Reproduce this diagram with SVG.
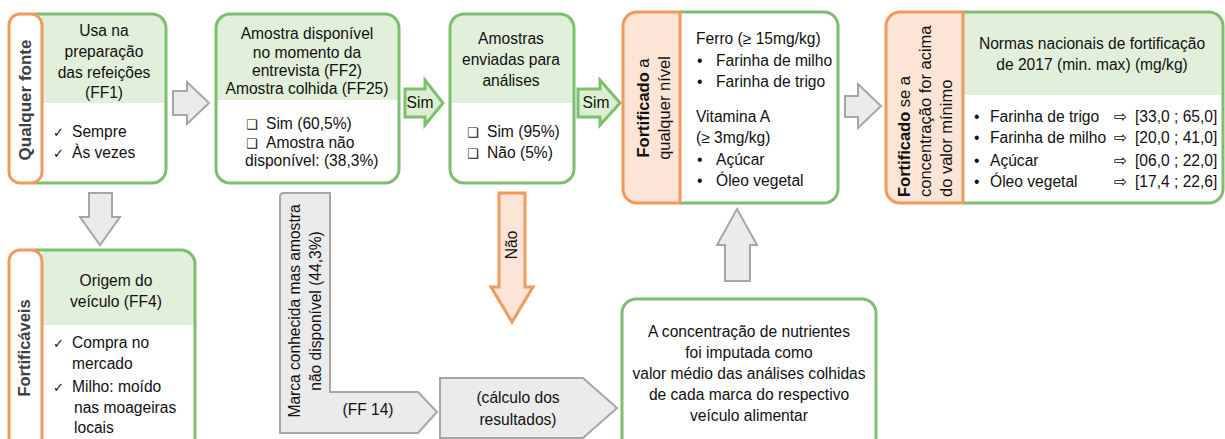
<svg xmlns="http://www.w3.org/2000/svg" width="1225" height="439" viewBox="0 0 1225 439">
<style>
text{font-family:"Liberation Sans",Arial,sans-serif;font-size:15.6px;fill:#111}
.c{text-anchor:middle}
.b{font-weight:bold}
.tab{font-weight:bold;font-size:16.5px;fill:#404040}
.sym{font-family:"DejaVu Sans",sans-serif;font-size:13px}
.arr{font-family:"DejaVu Sans",sans-serif;font-size:16px}
.box{fill:none;stroke:#7dbf6e;stroke-width:3}
.wbox{fill:#fff;stroke:#7dbf6e;stroke-width:3}
.hdr{fill:#e2efda}
.otab{fill:#fff;stroke:#f09a5e;stroke-width:3}
.otabf{fill:#fce4d6;stroke:#f09a5e;stroke-width:3}
.garrow{fill:#ebebeb;stroke:#a6a6a6;stroke-width:2;stroke-linejoin:miter}
.sarrow{fill:#dcefd3;stroke:#7dbf6e;stroke-width:3}
.oarrow{fill:#fce4d6;stroke:#f09a5e;stroke-width:3}
</style>
<rect width="1225" height="439" fill="#fff"/>

<g id="connectors">
  <polygon class="garrow" points="173,91 187,91 187,82 209,103 187,124 187,115 173,115"/>
  <polygon class="garrow" points="89,193 112,193 112,217 120,217 100,245 80,217 89,217"/>
  <polygon class="garrow" points="845,96 858,96 858,84 881,106 858,128 858,117 845,117"/>
  <polygon class="garrow" points="725,281 750,281 750,245 757,245 737,209 717,245 725,245"/>
  <g id="sim1">
    <polygon class="sarrow" points="405,89 425,89 425,80 443,103 425,125 425,117 405,117"/>
    <text x="420" y="108" class="c">Sim</text>
  </g>
  <g id="sim2">
    <polygon class="sarrow" points="578,89 600,89 600,80 620,103 600,125 600,117 578,117"/>
    <text x="596" y="108" class="c">Sim</text>
  </g>
  <g id="nao">
    <polygon class="oarrow" points="499,193 525,193 525,287 533,287 512,322 491,287 499,287"/>
    <text transform="translate(517,245) rotate(-90)" class="c">Não</text>
  </g>
  <g id="marca">
    <path class="garrow" d="M280,197 Q280,193 284,193 H330 V392 H418 L437,412 L418,433 H280 Z"/>
    <text transform="translate(300,311) rotate(-90)" class="c">Marca conhecida mas amostra</text>
    <text transform="translate(321,311) rotate(-90)" class="c">não disponível (44,3%)</text>
    <text x="368" y="415" class="c">(FF 14)</text>
  </g>
  <g id="calculo">
    <path class="garrow" d="M440,378 H583 L617,408 L583,438 H440 Z"/>
    <text x="518" y="403" class="c">(cálculo dos</text>
    <text x="518" y="425" class="c">resultados)</text>
  </g>
</g>

<g id="node-ff1">
  <path class="hdr" d="M42,14 H152 A14,14 0 0 1 166,28 V103 H42 Z"/>
  <rect class="box" x="22" y="14" width="144" height="169" rx="14"/>
  <rect class="otab" x="9" y="14" width="33" height="169" rx="11"/>
  <text class="tab c" transform="translate(31,100) rotate(-90)" style="font-size:17px">Qualquer fonte</text>
  <text x="104" y="36" class="c">Usa na</text>
  <text x="104" y="57" class="c">preparação</text>
  <text x="104" y="77.5" class="c">das refeições</text>
  <text x="104" y="98" class="c">(FF1)</text>
  <text x="53" y="137"><tspan class="sym">✓</tspan><tspan x="72">Sempre</tspan></text>
  <text x="53" y="158"><tspan class="sym">✓</tspan><tspan x="72">Às vezes</tspan></text>
</g>

<g id="node-ff2">
  <path class="hdr" d="M230,14 H385 A14,14 0 0 1 399,28 V100 H216 V28 A14,14 0 0 1 230,14 Z"/>
  <rect class="box" x="216" y="14" width="183" height="169" rx="14"/>
  <text x="307" y="39" class="c">Amostra disponível</text>
  <text x="307" y="57.5" class="c">no momento da</text>
  <text x="307" y="76" class="c">entrevista (FF2)</text>
  <text x="307" y="94" class="c">Amostra colhida (FF25)</text>
  <text x="246" y="129"><tspan class="sym">❑</tspan><tspan x="266">Sim (60,5%)</tspan></text>
  <text x="246" y="148"><tspan class="sym">❑</tspan><tspan x="266">Amostra não</tspan></text>
  <text x="245" y="166">disponível: (38,3%)</text>
</g>

<g id="node-analises">
  <path class="hdr" d="M464,14 H560 A14,14 0 0 1 574,28 V103 H450 V28 A14,14 0 0 1 464,14 Z"/>
  <rect class="box" x="450" y="14" width="124" height="169" rx="14"/>
  <text x="511" y="44" class="c">Amostras</text>
  <text x="511" y="65" class="c">enviadas para</text>
  <text x="511" y="86" class="c">análises</text>
  <text x="467" y="137"><tspan class="sym">❑</tspan><tspan x="487">Sim (95%)</tspan></text>
  <text x="467" y="158"><tspan class="sym">❑</tspan><tspan x="487">Não (5%)</tspan></text>
</g>

<g id="node-qualquer-nivel">
  <path class="wbox" d="M680,12 H824 A14,14 0 0 1 838,26 V189 A14,14 0 0 1 824,203 H680"/>
  <path class="otabf" d="M680,12 V203 H637 A14,14 0 0 1 623,189 V26 A14,14 0 0 1 637,12 Z"/>
  <text transform="translate(649,108) rotate(-90)" class="c" style="font-size:16.5px"><tspan class="b">Fortificado</tspan> a</text>
  <text transform="translate(670,108) rotate(-90)" class="c" style="font-size:16.5px">qualquer nível</text>
  <text x="696" y="44">Ferro (≥ 15mg/kg)</text>
  <text x="697" y="66">•<tspan x="716">Farinha de milho</tspan></text>
  <text x="697" y="87">•<tspan x="716">Farinha de trigo</tspan></text>
  <text x="696" y="122">Vitamina A</text>
  <text x="696" y="143">(≥ 3mg/kg)</text>
  <text x="697" y="165">•<tspan x="716">Açúcar</tspan></text>
  <text x="697" y="186">•<tspan x="716">Óleo vegetal</tspan></text>
</g>

<g id="node-normas">
  <path class="hdr" d="M963,12 H1209 A14,14 0 0 1 1223,26 V95 H963 Z"/>
  <path class="wbox" d="M963,12 H1209 A14,14 0 0 1 1223,26 V189 A14,14 0 0 1 1209,203 H963" style="fill:none"/>
  <path class="otabf" d="M963,12 V203 H900 A14,14 0 0 1 886,189 V26 A14,14 0 0 1 900,12 Z"/>
  <text transform="translate(910,197) rotate(-90)" style="font-size:16.5px"><tspan class="b">Fortificado</tspan> se a</text>
  <text transform="translate(931,197) rotate(-90)" style="font-size:16.5px">concentração for acima</text>
  <text transform="translate(952,197) rotate(-90)" style="font-size:16.5px">do valor mínimo</text>
  <text x="1092" y="49" class="c">Normas nacionais de fortificação</text>
  <text x="1092" y="70" class="c">de 2017 (min. max) (mg/kg)</text>
  <text x="974" y="122">•<tspan x="990">Farinha de trigo</tspan></text>
  <text x="974" y="143">•<tspan x="990">Farinha de milho</tspan></text>
  <text x="974" y="166">•<tspan x="990">Açúcar</tspan></text>
  <text x="974" y="187">•<tspan x="990">Óleo vegetal</tspan></text>
  <text x="1114" y="122"><tspan class="arr">⇨</tspan><tspan x="1135">[33,0 ; 65,0]</tspan></text>
  <text x="1114" y="143"><tspan class="arr">⇨</tspan><tspan x="1135">[20,0 ; 41,0]</tspan></text>
  <text x="1114" y="166"><tspan class="arr">⇨</tspan><tspan x="1135">[06,0 ; 22,0]</tspan></text>
  <text x="1114" y="187"><tspan class="arr">⇨</tspan><tspan x="1135">[17,4 ; 22,6]</tspan></text>
</g>

<g id="node-ff4">
  <path class="hdr" d="M42,250 H181 A14,14 0 0 1 195,264 V325 H42 Z"/>
  <rect class="box" x="22" y="250" width="173" height="210" rx="14"/>
  <rect class="otab" x="9" y="250" width="33" height="210" rx="11"/>
  <text class="tab c" transform="translate(30,348) rotate(-90)">Fortificáveis</text>
  <text x="116" y="286" class="c">Origem do</text>
  <text x="116" y="307" class="c">veículo (FF4)</text>
  <text x="53" y="348"><tspan class="sym">✓</tspan><tspan x="72">Compra no</tspan></text>
  <text x="72" y="369">mercado</text>
  <text x="53" y="392"><tspan class="sym">✓</tspan><tspan x="72">Milho: moído</tspan></text>
  <text x="74" y="413">nas moageiras</text>
  <text x="74" y="433">locais</text>
</g>

<g id="node-imputada">
  <rect class="wbox" x="622" y="299" width="254" height="170" rx="14"/>
  <text x="749" y="337" class="c">A concentração de nutrientes</text>
  <text x="749" y="358" class="c">foi imputada como</text>
  <text x="749" y="379" class="c">valor médio das análises colhidas</text>
  <text x="749" y="400" class="c">de cada marca do respectivo</text>
  <text x="749" y="421" class="c">veículo alimentar</text>
</g>
</svg>
